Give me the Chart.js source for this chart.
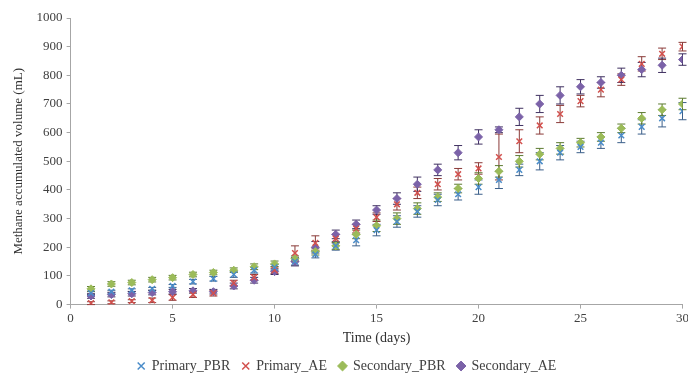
<!DOCTYPE html>
<html>
<head>
<meta charset="utf-8">
<script src="https://cdn.jsdelivr.net/npm/chart.js@4"></script>
<style>
  html, body { margin: 0; padding: 0; background: #fff; }
  #wrap { width: 688px; height: 378px; }
</style>
</head>
<body>
<div id="wrap"><canvas id="myChart"></canvas></div>
<script>
const days = [1,2,3,4,5,6,7,8,9,10,11,12,13,14,15,16,17,18,19,20,21,22,23,24,25,26,27,28,29,30];

const primaryPBR   = [40,45,50,55,65,80,90,105,120,130,150,175,205,225,260,290,325,365,385,410,435,470,500,530,550,565,590,620,650,675];
const primaryAE    = [5,8,12,15,25,35,40,75,95,120,180,215,230,265,305,350,390,420,455,475,515,570,625,665,710,750,785,840,875,900];
const secondaryPBR = [55,72,77,87,94,105,112,120,132,142,160,185,205,245,275,300,335,375,405,440,465,500,525,545,565,585,615,650,680,700];
const secondaryAE  = [30,35,38,42,45,48,45,65,85,115,150,200,245,280,330,370,420,470,530,585,610,655,700,730,760,775,800,820,835,855];

// standard deviations (error bars)
const errPrimaryPBR   = [5,5,5,5,5,8,8,10,10,10,12,12,15,20,20,20,20,20,20,25,30,20,30,25,20,20,25,25,30,30];
const errPrimaryAE    = [5,5,5,8,10,10,10,10,10,12,25,25,15,15,15,20,20,20,20,20,80,40,30,30,20,25,20,25,20,15];
const errSecondaryPBR = [8,8,8,8,8,8,8,8,10,10,10,12,12,15,20,20,20,15,15,20,20,20,20,20,15,15,15,20,20,20];
const errSecondaryAE  = [8,8,8,8,8,8,8,10,10,10,15,20,15,15,15,20,25,20,25,25,10,30,30,30,25,20,25,25,25,20];

const xTicks = [0,5,10,15,20,25,30];
const yTicks = [0,100,200,300,400,500,600,700,800,900,1000];

function toPoints(values) {
  return days.map((d, i) => ({ x: d, y: values[i] }));
}

// draws vertical error bars from the err arrays through the chart scales
const errorBars = {
  id: 'errorBars',
  beforeDatasetsDraw(chart) {
    const ctx = chart.ctx;
    const xs = chart.scales.x;
    const ys = chart.scales.y;
    chart.data.datasets.forEach((ds, k) => {
      if (!chart.isDatasetVisible(k)) return;
      ctx.save();
      ctx.strokeStyle = ds.barColor;
      ctx.lineWidth = 1;
      ds.data.forEach((p, i) => {
        const e = ds.errors[i];
        const px = xs.getPixelForValue(p.x);
        const top = ys.getPixelForValue(p.y + e);
        const bot = ys.getPixelForValue(p.y - e);
        ctx.beginPath();
        ctx.moveTo(px, top); ctx.lineTo(px, bot);
        ctx.moveTo(px - 4, top); ctx.lineTo(px + 4, top);
        ctx.moveTo(px - 4, bot); ctx.lineTo(px + 4, bot);
        ctx.stroke();
      });
      ctx.restore();
    });
  }
};

const ctx = document.getElementById('myChart').getContext('2d');

const myChart = new Chart(ctx, {
  type: 'scatter',
  data: {
    datasets: [
      {
        label: 'Primary_PBR',
        data: toPoints(primaryPBR),
        errors: errPrimaryPBR,
        pointStyle: 'crossRot',
        radius: 4,
        borderWidth: 1.5,
        borderColor: '#4a8cc9',
        backgroundColor: '#4a8cc9',
        barColor: '#3b5f8a'
      },
      {
        label: 'Primary_AE',
        data: toPoints(primaryAE),
        errors: errPrimaryAE,
        pointStyle: 'crossRot',
        radius: 4,
        borderWidth: 1.5,
        borderColor: '#d2504d',
        backgroundColor: '#d2504d',
        barColor: '#8a3a38'
      },
      {
        label: 'Secondary_PBR',
        data: toPoints(secondaryPBR),
        errors: errSecondaryPBR,
        pointStyle: 'rectRot',
        radius: 4,
        borderWidth: 1,
        borderColor: '#9bbb59',
        backgroundColor: '#9bbb59',
        barColor: '#5c7a30'
      },
      {
        label: 'Secondary_AE',
        data: toPoints(secondaryAE),
        errors: errSecondaryAE,
        pointStyle: 'rectRot',
        radius: 4,
        borderWidth: 1,
        borderColor: '#7b62a8',
        backgroundColor: '#7b62a8',
        barColor: '#3f3060'
      }
    ]
  },
  options: {
    responsive: true,
    maintainAspectRatio: false,
    animation: false,
    layout: { padding: { top: 18, right: 5, left: 11, bottom: -5 } },
    plugins: {
      legend: {
        position: 'bottom',
        labels: {
          usePointStyle: true,
          boxWidth: 7,
          boxHeight: 7,
          padding: 12,
          color: '#404040',
          font: { family: 'Liberation Serif', size: 14 }
        }
      },
      tooltip: { enabled: false }
    },
    scales: {
      x: {
        type: 'linear',
        min: 0,
        max: 30,
        afterBuildTicks: axis => { axis.ticks = xTicks.map(v => ({ value: v })); },
        afterFit: axis => { axis.paddingRight = 0; },
        grid: { drawOnChartArea: false, color: '#a6a6a6', tickLength: 4 },
        border: { color: '#a6a6a6' },
        ticks: { color: '#404040', font: { family: 'Liberation Serif', size: 13 }, padding: 2 },
        title: {
          display: true,
          text: 'Time (days)',
          color: '#303030',
          font: { family: 'Liberation Serif', size: 14 },
          padding: { top: 2, bottom: 0 }
        }
      },
      y: {
        min: 0,
        max: 1000,
        afterBuildTicks: axis => { axis.ticks = yTicks.map(v => ({ value: v })); },
        grid: { drawOnChartArea: false, color: '#a6a6a6', tickLength: 4 },
        border: { color: '#a6a6a6' },
        ticks: {
          color: '#404040',
          font: { family: 'Liberation Serif', size: 13 },
          padding: 4,
          callback: v => String(v)
        },
        title: {
          display: true,
          text: 'Methane accumulated volume (mL)',
          color: '#303030',
          font: { family: 'Liberation Serif', size: 13 },
          padding: { top: 0, bottom: 6 }
        }
      }
    }
  },
  plugins: [errorBars]
});
</script>
</body>
</html>
